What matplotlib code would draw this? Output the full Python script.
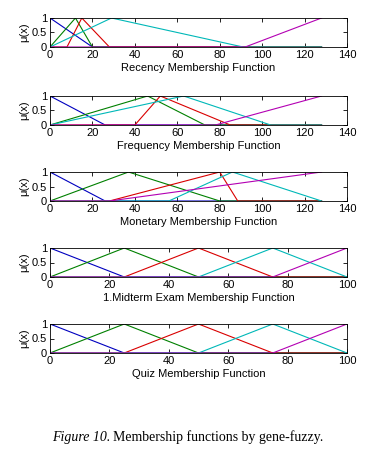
import matplotlib

matplotlib.use("Agg")
import matplotlib.pyplot as plt

# membership function breakpoints
# order matters: later series are drawn on top (blue, green, red, cyan, magenta)
recency_mfs = [
    ([0, 20, 128], [1, 0, 0]),
    ([0, 12, 20, 128], [0, 1, 0, 0]),
    ([0, 8, 15, 28, 128], [0, 0, 1, 0, 0]),
    ([0, 29, 91, 128], [0, 1, 0, 0]),
    ([0, 92, 128], [0, 0, 1]),
]
frequency_mfs = [
    ([0, 26, 128], [1, 0, 0]),
    ([0, 46, 73, 128], [0, 1, 0, 0]),
    ([0, 40, 52, 85, 128], [0, 0, 1, 0, 0]),
    ([0, 63, 104, 128], [0, 1, 0, 0]),
    ([0, 78, 128], [0, 0, 1]),
]
monetary_mfs = [
    ([0, 26, 128], [1, 0, 0]),
    ([0, 37, 80, 128], [0, 1, 0, 0]),
    ([0, 28, 80, 88.5, 128], [0, 0, 1, 0, 0]),
    ([0, 56, 86, 128], [0, 0, 1, 0]),
    ([0, 28, 128], [0, 0, 1]),
]
midterm_mfs = [
    ([0, 25, 100], [1, 0, 0]),
    ([0, 25, 50, 100], [0, 1, 0, 0]),
    ([0, 25, 50, 75, 100], [0, 0, 1, 0, 0]),
    ([0, 50, 75, 100], [0, 0, 1, 0]),
    ([0, 75, 100], [0, 0, 1]),
]
quiz_mfs = midterm_mfs

panel_titles = [
    "Recency Membership Function",
    "Frequency Membership Function",
    "Monetary Membership Function",
    "1.Midterm Exam Membership Function",
    "Quiz Membership Function",
]
panel_xmax = [140, 140, 140, 100, 100]
panel_data = [recency_mfs, frequency_mfs, monetary_mfs, midterm_mfs, quiz_mfs]

colours = [(0, 0, 0.75), (0, 0.5, 0), (0.85, 0, 0), (0, 0.72, 0.72), (0.7, 0, 0.7)]

plt.rcParams["font.family"] = ["Liberation Sans", "DejaVu Sans"]
plt.rcParams["font.size"] = 8

W, H = 371, 469
fig = plt.figure(figsize=(W / 100, H / 100), dpi=100)

tops = [18, 96, 172, 248, 324]
ax_h = 29
for top, mfs, title, xmax in zip(tops, panel_data, panel_titles, panel_xmax):
    ax = fig.add_axes([50 / W, 1 - (top + ax_h) / H, 297 / W, ax_h / H])
    for (xs, ys), c in zip(mfs, colours):
        ax.plot(xs, ys, color=c, lw=0.8)
    ax.set_xlim(0, xmax)
    ax.set_ylim(0, 1)
    ax.set_xticks(range(0, xmax + 1, 20))
    ax.set_yticks([0, 0.5, 1])
    ax.set_yticklabels(["0", "0.5", "1"])
    ax.tick_params(direction="in", length=3, width=0.6, top=True, right=True, pad=2)
    for s in ax.spines.values():
        s.set_linewidth(0.6)
    ax.set_xlabel(title, labelpad=2)
    ax.set_ylabel("\u03bc(x)", labelpad=2)

# caption: italic lead-in followed by regular text
cap_y = 1 - 437 / H
t1 = fig.text(52 / W, cap_y, "Figure 10.", family="Liberation Serif", style="italic",
              fontsize=10, va="center")
fig.canvas.draw()
bb = t1.get_window_extent()
fig.text((bb.x1 + 3) / W, cap_y, "Membership functions by gene-fuzzy.",
         family="Liberation Serif", fontsize=10, va="center")

fig.savefig("out.png", dpi=100)
